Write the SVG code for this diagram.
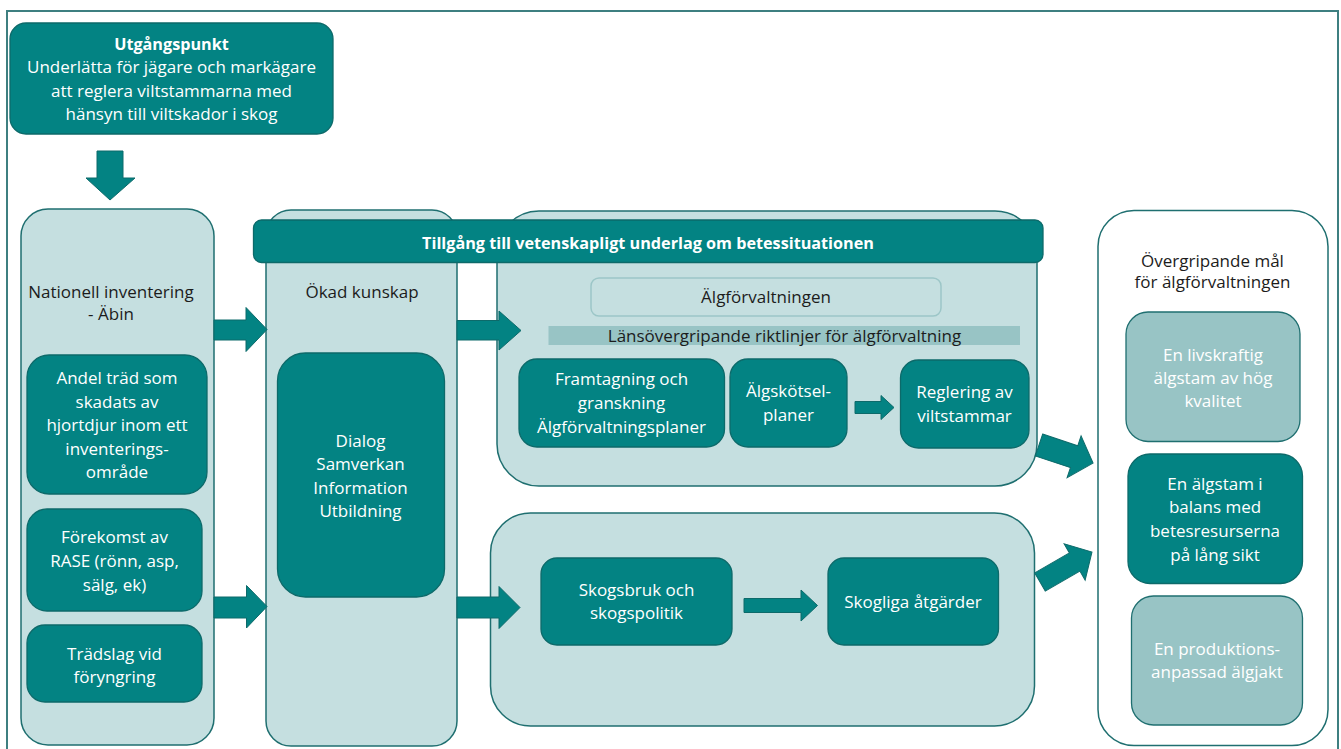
<svg xmlns="http://www.w3.org/2000/svg" width="1341" height="749" viewBox="0 0 1341 749">
<style>
text{font-family:"Open Sans","Liberation Sans",sans-serif;font-size:17px;text-anchor:middle}
.dk{fill:#1c1c1c}
.wt{fill:#ffffff}
.b{font-weight:bold;font-size:16.2px}
.cont{fill:#c5dfe0;stroke:#1f6f70;stroke-width:1.5}
.box{fill:#038383;stroke:#0d6a6a;stroke-width:1.3}
.mid{fill:#98c4c5;stroke:#1f6f70;stroke-width:1.3}
.arr{fill:#038383;stroke:#0d6a6a;stroke-width:1}
</style>
<rect x="7" y="11" width="1331" height="760" fill="none" stroke="#3e7f80" stroke-width="2"/>

<g id="utgangspunkt">
<rect class="box" x="10" y="23" width="323" height="111" rx="16"/>
<text class="wt b" x="171.5" y="50">Utgångspunkt</text>
<text class="wt" x="171.5" y="73">Underlätta för jägare och markägare</text>
<text class="wt" x="171.5" y="97">att reglera viltstammarna med</text>
<text class="wt" x="171.5" y="120">hänsyn till viltskador i skog</text>
</g>

<g id="nationell">
<rect class="cont" x="21" y="209" width="193" height="536" rx="27"/>
<text class="dk" x="111" y="298">Nationell inventering</text>
<text class="dk" x="111" y="319.5">- Äbin</text>
</g>
<g id="andel">
<rect class="box" x="27" y="355" width="180" height="139" rx="22"/>
<text class="wt" x="117" y="384">Andel träd som</text>
<text class="wt" x="117" y="407.5">skadats av</text>
<text class="wt" x="117" y="431">hjortdjur inom ett</text>
<text class="wt" x="117" y="454.5">inventerings-</text>
<text class="wt" x="117" y="478">område</text>
</g>
<g id="forekomst">
<rect class="box" x="27" y="509" width="175" height="102" rx="20"/>
<text class="wt" x="114.5" y="543">Förekomst av</text>
<text class="wt" x="114.5" y="567">RASE (rönn, asp,</text>
<text class="wt" x="114.5" y="591">sälg, ek)</text>
</g>
<g id="tradslag">
<rect class="box" x="27" y="625" width="175" height="77" rx="18"/>
<text class="wt" x="114.5" y="660">Trädslag vid</text>
<text class="wt" x="114.5" y="683">föryngring</text>
</g>

<g id="okad-kunskap">
<rect class="cont" x="266" y="210" width="191" height="536" rx="25"/>
<text class="dk" x="362" y="298">Ökad kunskap</text>
</g>
<g id="dialog">
<rect class="box" x="277.5" y="353" width="167" height="244" rx="28"/>
<text class="wt" x="360.5" y="446.5">Dialog</text>
<text class="wt" x="360.5" y="470">Samverkan</text>
<text class="wt" x="360.5" y="493.5">Information</text>
<text class="wt" x="360.5" y="517">Utbildning</text>
</g>

<g id="algforvaltning-container">
<rect class="cont" x="497" y="211" width="540" height="275" rx="42"/>
</g>

<g id="banner">
<rect class="box" x="253.5" y="220" width="789.5" height="42.5" rx="8"/>
<text class="wt b" x="648" y="249">Tillgång till vetenskapligt underlag om betessituationen</text>
</g>

<g id="algforvaltningen">
<rect x="591" y="278" width="350" height="38" rx="8" fill="#c5dfe0" stroke="#9cc6c7" stroke-width="1.5"/>
<text class="dk" x="766" y="303">Älgförvaltningen</text>
</g>
<g id="riktlinjer">
<rect x="548.5" y="326" width="471.5" height="19" fill="#98c4c5"/>
<text class="dk" x="784.5" y="342">Länsövergripande riktlinjer för älgförvaltning</text>
</g>
<g id="framtagning">
<rect class="box" x="519" y="359" width="205.5" height="88" rx="18"/>
<text class="wt" x="621.5" y="385">Framtagning och</text>
<text class="wt" x="621.5" y="408.5">granskning</text>
<text class="wt" x="621.5" y="432.5">Älgförvaltningsplaner</text>
</g>
<g id="algskotsel">
<rect class="box" x="730" y="359" width="117" height="88" rx="18"/>
<text class="wt" x="788.5" y="397">Älgskötsel-</text>
<text class="wt" x="788.5" y="421">planer</text>
</g>
<g id="reglering">
<rect class="box" x="900.5" y="360" width="128.5" height="88" rx="18"/>
<text class="wt" x="964.5" y="398">Reglering av</text>
<text class="wt" x="964.5" y="422">viltstammar</text>
</g>

<g id="skog-container">
<rect class="cont" x="490.5" y="513" width="544" height="213" rx="40"/>
</g>
<g id="skogsbruk">
<rect class="box" x="541" y="558" width="191" height="87" rx="16"/>
<text class="wt" x="636.5" y="596">Skogsbruk och</text>
<text class="wt" x="636.5" y="619">skogspolitik</text>
</g>
<g id="skogliga">
<rect class="box" x="828" y="558" width="170.5" height="87" rx="16"/>
<text class="wt" x="913" y="607.5">Skogliga åtgärder</text>
</g>

<g id="mal">
<rect x="1098" y="210.5" width="230" height="535" rx="36" fill="#ffffff" stroke="#1f6f70" stroke-width="1.5"/>
<text class="dk" x="1212.5" y="266.5">Övergripande mål</text>
<text class="dk" x="1212.5" y="287.5">för älgförvaltningen</text>
</g>
<g id="livskraftig">
<rect class="mid" x="1126" y="312" width="174" height="129.5" rx="22"/>
<text class="wt" x="1213" y="361">En livskraftig</text>
<text class="wt" x="1213" y="384">älgstam av hög</text>
<text class="wt" x="1213" y="407">kvalitet</text>
</g>
<g id="balans">
<rect class="box" x="1128" y="454" width="174.5" height="129.5" rx="22"/>
<text class="wt" x="1215" y="490">En älgstam i</text>
<text class="wt" x="1215" y="513">balans med</text>
<text class="wt" x="1215" y="537">betesresurserna</text>
<text class="wt" x="1215" y="560.5">på lång sikt</text>
</g>
<g id="produktion">
<rect class="mid" x="1131.5" y="596" width="171" height="129" rx="22"/>
<text class="wt" x="1217" y="655">En produktions-</text>
<text class="wt" x="1217" y="678">anpassad älgjakt</text>
</g>

<g id="connectors">
<polygon class="arr" points="97,151 123,151 123,178 135,178 110,200 86,178 97,178"/>
<polygon class="arr" points="214,320 246,320 246,307.5 267,329.5 246,351.5 246,340 214,340"/>
<polygon class="arr" points="214,597 246.5,597 246.5,585.5 267,606.5 246.5,628 246.5,618 214,618"/>
<polygon class="arr" points="457,320.5 499,320.5 499,311 521,330.5 499,350 499,340 457,340"/>
<polygon class="arr" points="457,597 499,597 499,586.5 520,607.5 499,628.5 499,618 457,618"/>
<polygon class="arr" points="855,401.5 881,401.5 881,395.5 894,407.5 881,419.5 881,413.5 855,413.5"/>
<polygon class="arr" points="744,598.5 801,598.5 801,590 817.5,605.5 801,621 801,612.5 744,612.5"/>
<polygon class="arr" transform="translate(1039,445) rotate(18.5)" points="0,-11.5 37,-11.5 37,-22 57,0 37,22 37,11.5 0,11.5"/>
<polygon class="arr" transform="translate(1040,582) rotate(-30)" points="0,-10.5 40,-10.5 40,-21 60,0 40,21 40,10.5 0,10.5"/>
</g>
</svg>
